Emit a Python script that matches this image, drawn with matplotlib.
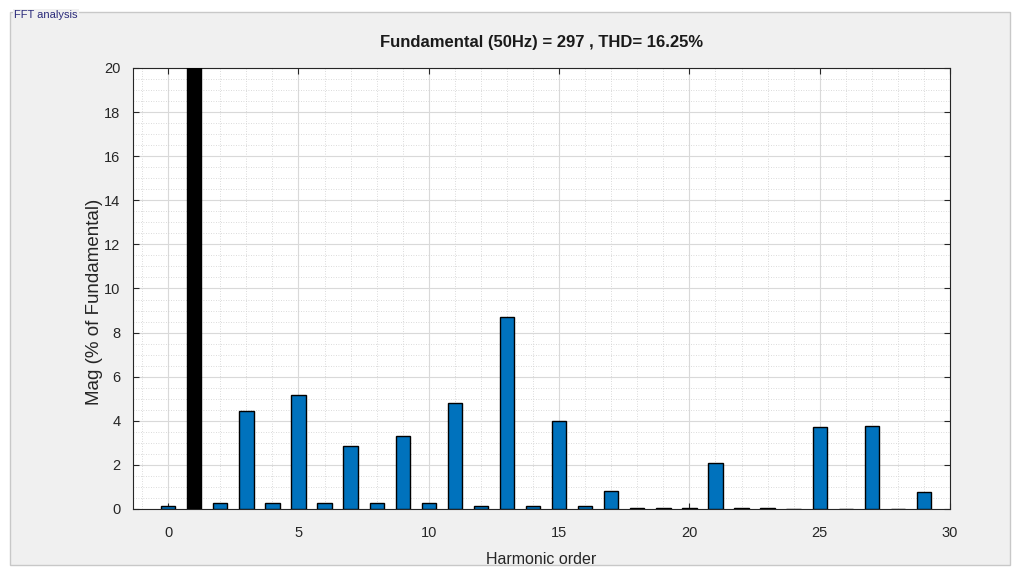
import numpy as np
import matplotlib.pyplot as plt
from matplotlib.patches import Rectangle
from matplotlib.ticker import MultipleLocator

# harmonic spectrum, % of fundamental
orders = list(range(0, 30))
mags = [0.15, 100, 0.25, 4.45, 0.25, 5.15, 0.25, 2.85, 0.25, 3.3,
        0.25, 4.8, 0.15, 8.7, 0.15, 4.0, 0.15, 0.8, 0.05, 0.05,
        0.05, 2.1, 0.05, 0.05, 0.0, 3.7, 0.0, 3.75, 0.0, 0.75]
fund_hz = 50
fund_mag = 297
thd = 16.25

plt.rcParams['font.family'] = ['Liberation Sans', 'DejaVu Sans']

fig = plt.figure(figsize=(10.21, 5.71), dpi=100)
fig.patch.set_facecolor('white')

# panel frame (drawn behind the axes)
panel = Rectangle((10 / 1021, 6 / 571), 1000 / 1021, 553 / 571,
                  transform=fig.transFigure, facecolor='#f0f0f0',
                  edgecolor='#c8c8c8', linewidth=1.0, zorder=-10)
fig.patches.append(panel)
fig.text(14 / 1021, 1 - 15 / 571, 'FFT analysis', fontsize=8,
         color='#2a2a7a', va='center', ha='left', zorder=-5,
         bbox=dict(facecolor='#f0f0f0', edgecolor='none', pad=1.0))

ax = fig.add_axes([133 / 1021, 62 / 571, 817 / 1021, 441 / 571])
ax.set_facecolor('white')

colors = ['black' if o == 1 else '#0072bd' for o in orders]
ax.bar(orders, mags, width=0.55, color=colors, edgecolor='black',
       linewidth=1.0, zorder=3)

ax.set_xlim(-1.35, 30)
ax.set_ylim(0, 20)
ax.xaxis.set_major_locator(MultipleLocator(5))
ax.xaxis.set_minor_locator(MultipleLocator(1))
ax.yaxis.set_major_locator(MultipleLocator(2))
ax.yaxis.set_minor_locator(MultipleLocator(0.5))

ax.grid(which='major', color='#d9d9d9', linewidth=0.8, zorder=0)
ax.grid(which='minor', color='#cfcfcf', linestyle=(0, (1, 2)),
        linewidth=0.6, zorder=0)
ax.set_axisbelow(True)

ax.tick_params(which='both', direction='in', top=True, right=True,
               labelsize=10.5, colors='#262626')
ax.tick_params(axis='x', pad=12)
ax.tick_params(axis='y', pad=9)
ax.tick_params(which='minor', length=0)
ax.tick_params(which='major', length=4)
for s in ax.spines.values():
    s.set_color('#262626')
    s.set_linewidth(0.8)

ax.set_title(f'Fundamental ({fund_hz}Hz) = {fund_mag} , THD= {thd:.2f}%',
             fontsize=12, fontweight='bold', color='#1a1a1a', pad=15)
ax.set_xlabel('Harmonic order', fontsize=11.5, color='#262626', labelpad=9)
ax.set_ylabel('Mag (% of Fundamental)', fontsize=13.5, color='#262626',
              labelpad=1)
ax.yaxis.label.set_y(0.47)

fig.savefig('out.png', dpi=100)
